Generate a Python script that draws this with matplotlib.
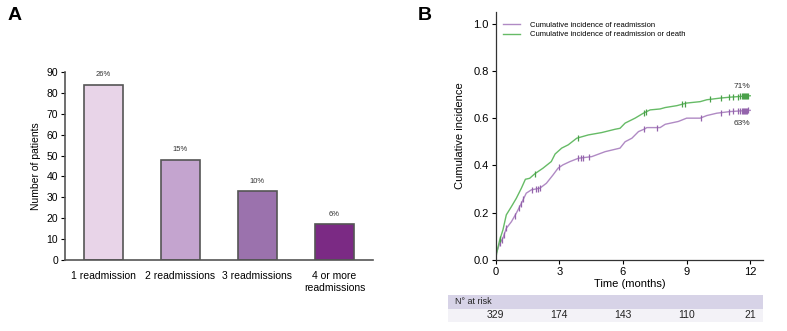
import numpy as np
import matplotlib
matplotlib.use("Agg")
import matplotlib.pyplot as plt
from matplotlib.patches import Rectangle

plt.rcParams["font.family"] = ["Liberation Sans", "DejaVu Sans"]

# ---- panel A data ----
categories = ["1 readmission", "2 readmissions", "3 readmissions", "4 or more\nreadmissions"]
patients = [84, 48, 33, 17]
pct_labels = ["26%", "15%", "10%", "6%"]
bar_colors = ["#e8d4e8", "#c4a4cf", "#9b72ad", "#7b2a84"]

# ---- panel B data (curves) ----
t_readm = [0, 0.03, 0.19, 0.34, 0.5, 0.74, 0.97, 1.21, 1.44, 1.68, 2.08, 2.39, 2.7, 2.94, 3.17,
           3.5, 3.9, 4.53, 5.16, 5.86, 6.1, 6.42, 6.73, 7.04, 7.12, 7.75, 7.99, 8.61, 9.0, 9.64,
           9.95, 10.42, 11.05, 12.0]
ci_readm = [0, 0.027, 0.07, 0.091, 0.133, 0.161, 0.197, 0.239, 0.282, 0.296, 0.303, 0.324, 0.359,
            0.388, 0.402, 0.416, 0.43, 0.437, 0.458, 0.473, 0.5, 0.515, 0.543, 0.555, 0.56, 0.56,
            0.574, 0.586, 0.6, 0.6, 0.611, 0.621, 0.628, 0.633]
t_death = [0, 0.05, 0.19, 0.34, 0.5, 0.74, 0.97, 1.21, 1.4, 1.6, 1.84, 2.23, 2.62, 2.8, 3.11,
           3.42, 3.82, 4.37, 5.0, 5.63, 5.86, 6.1, 6.57, 6.96, 7.28, 7.75, 7.99, 8.54, 9.0, 9.64,
           9.95, 10.58, 11.05, 12.0]
ci_death = [0, 0.03, 0.084, 0.126, 0.19, 0.225, 0.26, 0.303, 0.341, 0.345, 0.364, 0.388, 0.416,
            0.448, 0.473, 0.487, 0.515, 0.529, 0.539, 0.553, 0.557, 0.579, 0.6, 0.621, 0.635,
            0.639, 0.645, 0.653, 0.664, 0.67, 0.678, 0.685, 0.689, 0.695]
cens_readm = [0.2, 0.3, 0.4, 0.5, 0.9, 1.1, 1.2, 1.3, 1.7, 1.9, 2.0, 2.1, 3.0, 3.9, 4.0, 4.1, 4.4,
              7.0, 7.6, 9.7, 10.6, 11.0, 11.2, 11.4, 11.5, 11.6, 11.65, 11.7, 11.75, 11.8, 11.85,
              11.9]
cens_death = [0.2, 1.85, 3.9, 7.0, 7.1, 8.8, 8.9, 10.1, 10.6, 11.0, 11.2, 11.4, 11.5, 11.6, 11.65,
              11.7, 11.75, 11.8, 11.85, 11.9]
risk_times = [0, 3, 6, 9, 12]
n_at_risk = [329, 174, 143, 110, 21]

W, H = 787, 331
fig = plt.figure(figsize=(W / 100, H / 100), dpi=100)

def box(l, r, t, b):
    return [l / W, 1 - b / H, (r - l) / W, (b - t) / H]

# ===== panel A =====
ax_a = fig.add_axes(box(65, 373, 72, 260))
x = np.arange(len(categories))
ax_a.bar(x, patients, width=0.5, color=bar_colors, edgecolor="#555555", linewidth=1.2)
for xi, v, lab in zip(x, patients, pct_labels):
    ax_a.text(xi, v + 3, lab, ha="center", va="bottom", fontsize=5.5, color="#333333")
ax_a.set_xlim(-0.5, 3.5)
ax_a.set_ylim(0, 90)
ax_a.set_yticks(range(0, 91, 10))
ax_a.set_xticks(x)
ax_a.set_xticklabels(categories, fontsize=7.5)
ax_a.tick_params(axis="x", length=0, pad=8)
ax_a.tick_params(axis="y", labelsize=7.5, length=3, width=0.8, direction="out", pad=2)
ax_a.set_ylabel("Number of patients", fontsize=7.5, labelpad=4)
for s in ["top", "right"]:
    ax_a.spines[s].set_visible(False)
for s in ["left", "bottom"]:
    ax_a.spines[s].set_color("#555555")
    ax_a.spines[s].set_linewidth(1.2)

fig.text(8 / W, 1 - 16 / H, "A", fontsize=14, fontweight="bold", va="center", ha="left")
fig.text(418 / W, 1 - 16 / H, "B", fontsize=14, fontweight="bold", va="center", ha="left")

# ===== panel B =====
ax_b = fig.add_axes(box(495.7, 763, 12, 259.7))
purple = "#b08ac4"
purple_d = "#9464ac"
green = "#66bb66"
green_d = "#4aa04a"
ax_b.plot(t_readm, ci_readm, color=purple, lw=1.0,
          label="Cumulative incidence of readmission")
ax_b.plot(t_death, ci_death, color=green, lw=1.0,
          label="Cumulative incidence of readmission or death")

ax_b.plot(cens_readm, np.interp(cens_readm, t_readm, ci_readm), ls="none", marker="|",
          ms=4, mew=0.9, color=purple_d)
ax_b.plot(cens_death, np.interp(cens_death, t_death, ci_death), ls="none", marker="|",
          ms=4, mew=0.9, color=green_d)
ax_b.text(12, ci_death[-1] + 0.025, "71%", ha="right", va="bottom", fontsize=6, color="#333333")
ax_b.text(12, ci_readm[-1] - 0.04, "63%", ha="right", va="top", fontsize=6, color="#333333")

ax_b.set_xlim(0, 12.6)
ax_b.set_ylim(0, 1.05)
ax_b.set_xticks(risk_times)
ax_b.set_yticks(np.arange(0, 1.01, 0.2))
ax_b.set_yticklabels([f"{v:.1f}" for v in np.arange(0, 1.01, 0.2)])
ax_b.tick_params(labelsize=8, length=3, width=0.8, direction="out", pad=2)
ax_b.set_xlabel("Time (months)", fontsize=8, labelpad=2)
ax_b.set_ylabel("Cumulative incidence", fontsize=8, labelpad=6)
for s in ["top", "right"]:
    ax_b.spines[s].set_visible(False)
for s in ["left", "bottom"]:
    ax_b.spines[s].set_color("#333333")
    ax_b.spines[s].set_linewidth(0.9)
leg = ax_b.legend(loc="upper left", bbox_to_anchor=(0.027, 0.962), frameon=False, fontsize=5.5,
                  handlelength=2.2, handletextpad=1.3, labelspacing=0.3, borderaxespad=0,
                  borderpad=0)

# ---- number at risk table ----
ax_t = fig.add_axes(box(447.7, 763, 295, 322))
px_per_month = (763 - 495.7) / 12.6
ax_t.set_xlim(-(495.7 - 447.7) / px_per_month, 12.6)
ax_t.set_ylim(0, 2)
ax_t.axis("off")
x0 = ax_t.get_xlim()[0]
ax_t.add_patch(Rectangle((x0, 1.0), 20, 1.0, color="#d7d3e7", lw=0))
ax_t.add_patch(Rectangle((x0, 0.0), 20, 1.0, color="#f3f2f7", lw=0))
ax_t.text(x0 + 7 / px_per_month, 1.5, "N° at risk", fontsize=6.5,
          va="center", ha="left", color="#222222")
for t, n in zip(risk_times, n_at_risk):
    ax_t.text(t, 0.5, str(n), fontsize=7.5, va="center", ha="center", color="#222222")

fig.savefig("out.png", dpi=100)
